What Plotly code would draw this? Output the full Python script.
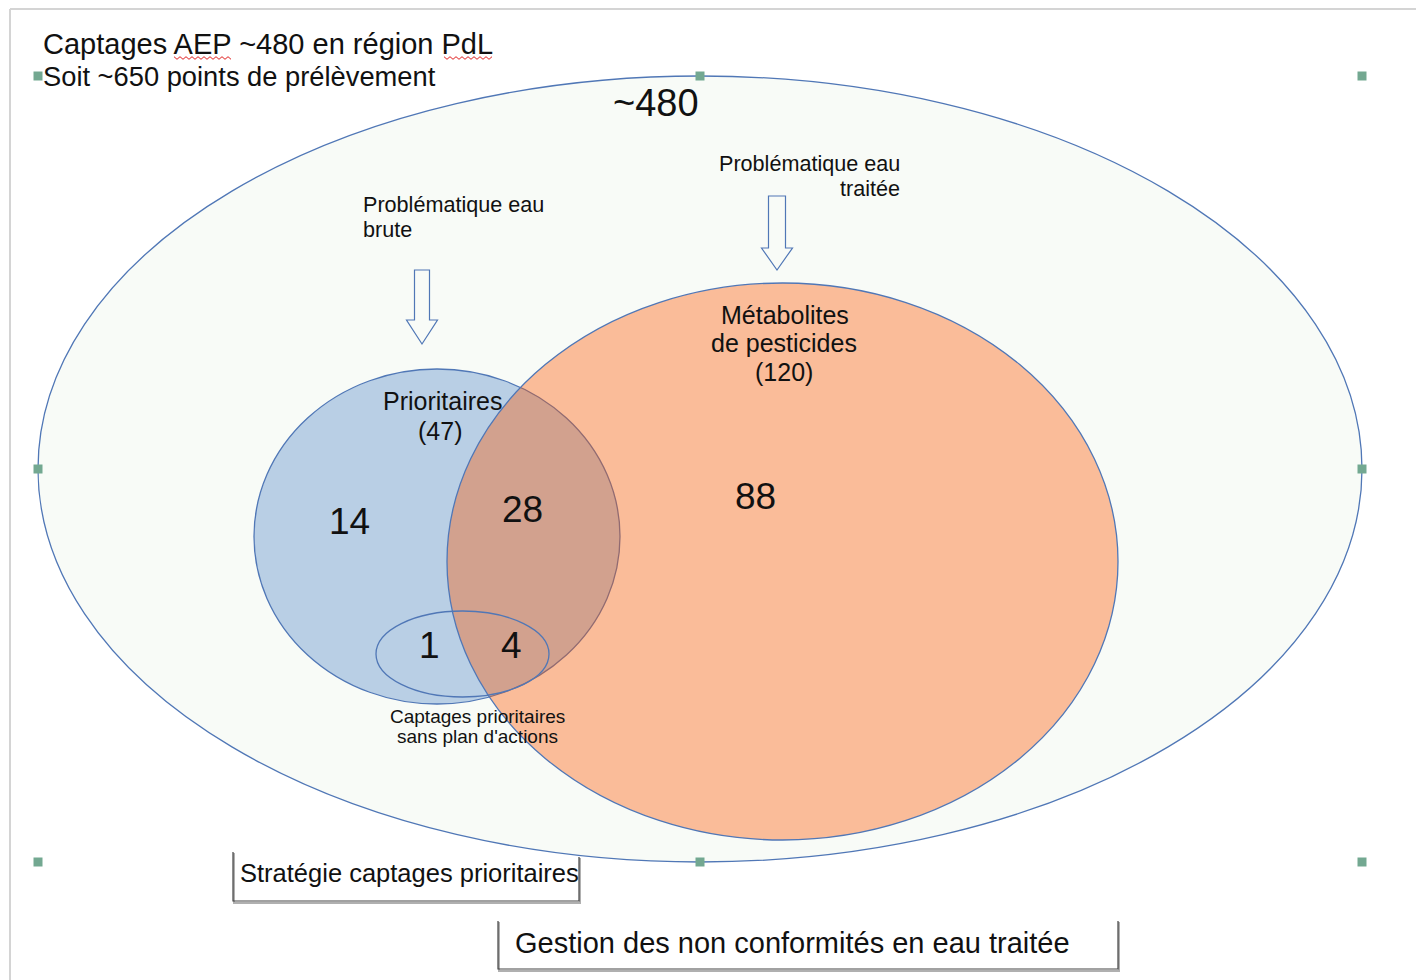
import plotly.graph_objects as go

# ---------------- data ----------------
total_captages = 480
total_points = 650
set_names = ["Prioritaires", "Métabolites", "de pesticides"]
set_totals = [47, 120]
region_labels = ["prio_only", "prio_meta", "meta_only", "sans_plan_prio", "sans_plan_meta"]
region_counts = [14, 28, 88, 1, 4]
title_lines = ["Captages AEP ~{} en région PdL", "Soit ~{} points de prélèvement"]
arrow_texts = [["Problématique eau", "brute"], ["Problématique eau", "traitée"]]
subset_text = ["Captages prioritaires", "sans plan d'actions"]
box_texts = ["Stratégie captages prioritaires", "Gestion des non conformités en eau traitée"]

# ---------------- layout / style ----------------
W, H = 1416, 980
FONT = "Liberation Sans, Arial, sans-serif"
EDGE = "#5077B6"
TXT = "#111111"

outer = dict(x0=38, x1=1362, y0=76, y1=862)
blue = dict(x0=254, x1=620, y0=369, y1=704)
orange = dict(x0=447, x1=1118, y0=283, y1=840)
small = dict(x0=376, x1=549, y0=611, y1=697)

fig = go.Figure()
shapes = []
annots = []

# page frame
shapes.append(dict(type="line", x0=10, x1=W, y0=9, y1=9, line=dict(color="#d4d4d4", width=2)))
shapes.append(dict(type="line", x0=10, x1=10, y0=9, y1=H, line=dict(color="#d4d4d4", width=2)))

# ellipses
shapes.append(dict(type="circle", **outer, fillcolor="#F8FBF7", line=dict(color=EDGE, width=1.3), layer="above"))
shapes.append(dict(type="circle", **blue, fillcolor="#B9CFE5", line=dict(color=EDGE, width=1.3), layer="above"))
shapes.append(dict(type="circle", **orange, fillcolor="rgba(253,88,0,0.38)", line=dict(color=EDGE, width=1.3), layer="above"))
shapes.append(dict(type="circle", **small, fillcolor="rgba(0,0,0,0)", line=dict(color=EDGE, width=1.3), layer="above"))

# selection handles on outer ellipse
hx = [outer["x0"], (outer["x0"] + outer["x1"]) / 2, outer["x1"]]
hy = [outer["y0"], (outer["y0"] + outer["y1"]) / 2, outer["y1"]]
for yy in hy:
    for xx in hx:
        if xx == hx[1] and yy == hy[1]:
            continue
        shapes.append(dict(type="rect", x0=xx - 4.5, x1=xx + 4.5, y0=yy - 4.5, y1=yy + 4.5,
                           fillcolor="#73A891", line=dict(color="#73A891", width=0), layer="above"))

# hollow block arrows
def block_arrow(cx, top, head_y, tip_y, shaft_w, head_w):
    sw, hw = shaft_w / 2, head_w / 2
    pts = [(cx - sw, top), (cx + sw, top), (cx + sw, head_y), (cx + hw, head_y), (cx, tip_y),
           (cx - hw, head_y), (cx - sw, head_y)]
    return "M " + " L ".join(f"{x},{y}" for x, y in pts) + " Z"

shapes.append(dict(type="path", path=block_arrow(422, 270, 320, 344, 15, 31),
                   fillcolor="rgba(255,255,255,0)", line=dict(color=EDGE, width=1.2), layer="above"))
shapes.append(dict(type="path", path=block_arrow(777, 196, 248, 270, 17, 31),
                   fillcolor="rgba(255,255,255,0)", line=dict(color=EDGE, width=1.2), layer="above"))

# spell-check squiggles
def squiggle(x0, x1, y):
    pts, x, up = [], x0, True
    while x <= x1:
        pts.append((x, y - 1.3 if up else y + 1.3))
        x += 3
        up = not up
    return "M " + " L ".join(f"{a},{b}" for a, b in pts)

shapes.append(dict(type="path", path=squiggle(174, 232, 58), line=dict(color="#e02020", width=1), layer="above"))
shapes.append(dict(type="path", path=squiggle(444, 493, 58), line=dict(color="#e02020", width=1), layer="above"))

# bottom boxes (open top)
def open_box(x0, x1, yl, yr, yb):
    return f"M {x0},{yl} L {x0},{yb} L {x1},{yb} L {x1},{yr}"

shapes.append(dict(type="path", path=open_box(234, 580, 853, 858, 903), line=dict(color="#b0b0b0", width=2), layer="above"))
shapes.append(dict(type="path", path=open_box(233, 579, 852, 857, 901), line=dict(color="#444444", width=1.2), layer="above"))
shapes.append(dict(type="path", path=open_box(499, 1119, 922, 922, 971), line=dict(color="#b0b0b0", width=2), layer="above"))
shapes.append(dict(type="path", path=open_box(498, 1118, 921, 921, 969), line=dict(color="#444444", width=1.2), layer="above"))


def txt(x, y, s, size, anchor="center"):
    annots.append(dict(x=x, y=y, text=s, showarrow=False, xanchor=anchor, yanchor="middle",
                       font=dict(family=FONT, size=size, color=TXT)))

txt(41, 44, title_lines[0].format(total_captages), 29, "left")
txt(41, 76, title_lines[1].format(total_points), 27.3, "left")
txt(656, 103, f"~{total_captages}", 38)

txt(361, 204, arrow_texts[0][0], 21.6, "left")
txt(361, 229, arrow_texts[0][1], 21.6, "left")
txt(902, 163, arrow_texts[1][0], 21.6, "right")
txt(902, 188, arrow_texts[1][1], 21.6, "right")

txt(785, 315, set_names[1], 25)
txt(784, 343, set_names[2], 25)
txt(784, 372, f"({set_totals[1]})", 25)
txt(442, 401, set_names[0], 25)
txt(440, 431, f"({set_totals[0]})", 25)

count_pos = [(349, 521), (522, 509), (755, 496), (429, 645), (511, 645)]
for (x, y), c in zip(count_pos, region_counts):
    txt(x, y, str(c), 37)

txt(477, 716, subset_text[0], 19)
txt(477, 736, subset_text[1], 19)

txt(238, 873, box_texts[0], 25.5, "left")
txt(513, 943, box_texts[1], 29, "left")

fig.update_layout(
    width=W, height=H, margin=dict(l=0, r=0, t=0, b=0),
    paper_bgcolor="white", plot_bgcolor="white",
    xaxis=dict(range=[0, W], visible=False, fixedrange=True),
    yaxis=dict(range=[H, 0], visible=False, fixedrange=True),
    shapes=shapes, annotations=annots, showlegend=False,
)

fig.write_html("out.html", config={"displayModeBar": False},
               post_script="document.body.style.margin='0';")
